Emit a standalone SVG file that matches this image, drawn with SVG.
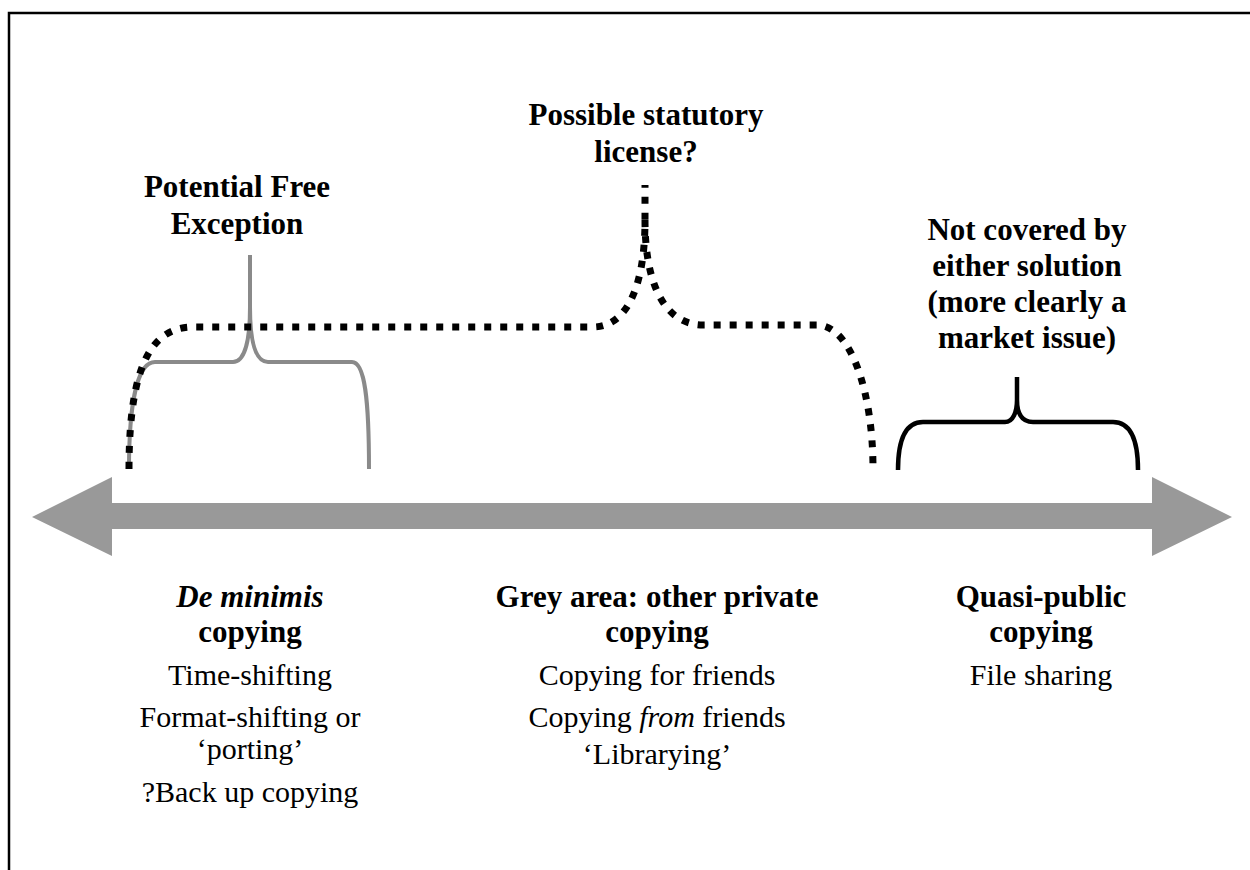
<svg xmlns="http://www.w3.org/2000/svg" width="1250" height="870" viewBox="0 0 1250 870">
<style>
text{font-family:"Liberation Serif","Times New Roman",serif;fill:#000;text-anchor:middle}
.b{font-weight:bold;font-size:31px}
.r{font-size:30px}
.grey{fill:none;stroke:#8a8a8a;stroke-width:4}
.dot{fill:none;stroke:#000;stroke-width:7;stroke-dasharray:7 9}
.blk{fill:none;stroke:#000;stroke-width:4.5}
</style>
<rect width="1250" height="870" fill="#fff"/>
<path d="M9,870 V13 H1250" fill="none" stroke="#000" stroke-width="2.5"/>
<g id="connectors">
<polygon id="axis" points="32,517 112,477 112,503 1152,503 1152,477 1232,517 1152,556 1152,529 112,529 112,556" fill="#999"/>
<path class="grey" d="M129,469 C129,405 137,362 155,362 L233,362 C245,362 250,340 250,307 L250,255 M250,307 C250,340 255,362 268,362 L352,362 C365,362 369,400 369,469"/>
<path class="dot" d="M129,469 C129,365 152,327 193,327 L593,327 C625,327 645,290 645,220 L645,185 M645,220 C645,290 668,325 703,325 L817,325 C850,325 873,390 873,469"/>
<path class="blk" d="M898,470 C898,440 905,422 923,422 L1005,422 C1013,422 1017,412 1017,400 L1017,377 M1017,400 C1017,412 1021,422 1033,422 L1113,422 C1131,422 1138,440 1138,470"/>
</g>
<g id="label-statutory">
<text class="b" x="646" y="125">Possible statutory</text>
<text class="b" x="646" y="162">license?</text>
</g>
<g id="label-free">
<text class="b" x="237" y="197">Potential Free</text>
<text class="b" x="237" y="234">Exception</text>
</g>
<g id="label-notcovered">
<text class="b" x="1027" y="240">Not covered by</text>
<text class="b" x="1027" y="276">either solution</text>
<text class="b" x="1027" y="312">(more clearly a</text>
<text class="b" x="1027" y="348">market issue)</text>
</g>
<g id="col-deminimis">
<text class="b" x="250" y="607"><tspan font-style="italic">De minimis</tspan></text>
<text class="b" x="250" y="642">copying</text>
<text class="r" x="250" y="685">Time-shifting</text>
<text class="r" x="250" y="727">Format-shifting or</text>
<text class="r" x="250" y="759">‘porting’</text>
<text class="r" x="250" y="802">?Back up copying</text>
</g>
<g id="col-grey">
<text class="b" x="657" y="607">Grey area: other private</text>
<text class="b" x="657" y="642">copying</text>
<text class="r" x="657" y="685">Copying for friends</text>
<text class="r" x="657" y="727">Copying <tspan font-style="italic">from</tspan> friends</text>
<text class="r" x="657" y="764">‘Librarying’</text>
</g>
<g id="col-quasi">
<text class="b" x="1041" y="607">Quasi-public</text>
<text class="b" x="1041" y="642">copying</text>
<text class="r" x="1041" y="685">File sharing</text>
</g>
</svg>
